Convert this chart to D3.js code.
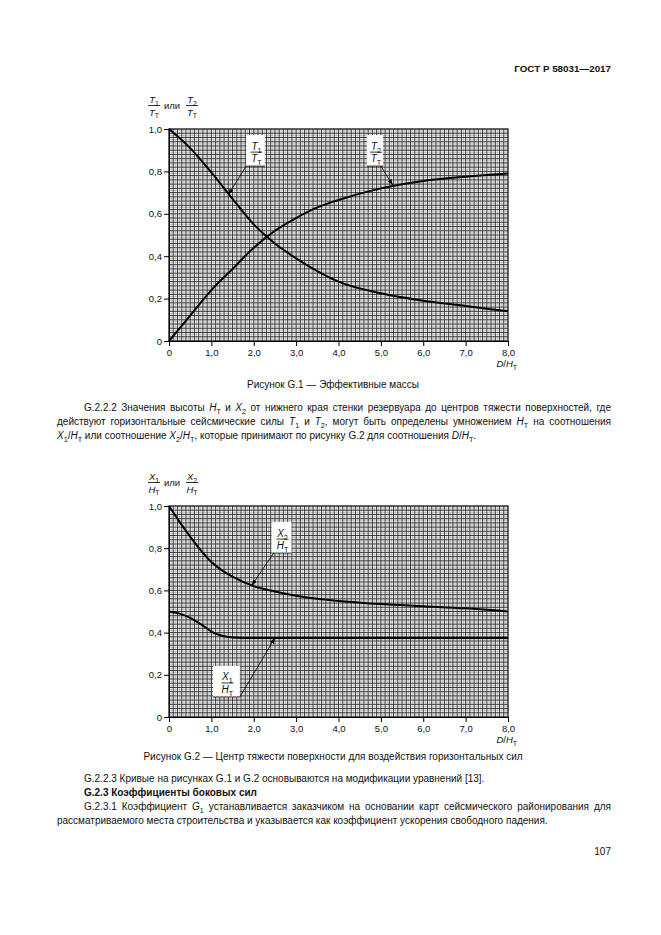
<!DOCTYPE html>
<html>
<head>
<meta charset="utf-8">
<script src="https://cdn.jsdelivr.net/npm/d3@7"></script>
<style>
  body { margin: 0; background: #fff; }
  svg { display: block; }
  text { font-family: "Liberation Sans", Arial, sans-serif; fill: #111; white-space: pre; }
</style>
</head>
<body>
<script>
// ── Data ────────────────────────────────────────────
const xTicks = [0, 1, 2, 3, 4, 5, 6, 7, 8];
const yTicks = [0, 0.2, 0.4, 0.6, 0.8, 1.0];

// Figure G.1
const t1X = [0, 0.5, 1.0, 1.5, 2.0, 2.5, 3.0, 3.5, 4.0, 5.0, 6.0, 7.0, 8.0];
const t1Y = [1.0, 0.91, 0.795, 0.67, 0.55, 0.46, 0.39, 0.33, 0.28, 0.225, 0.19, 0.165, 0.14];
const t2X = [0, 0.5, 1.0, 1.5, 2.0, 2.5, 3.0, 3.5, 4.0, 5.0, 6.0, 7.0, 8.0];
const t2Y = [0, 0.12, 0.24, 0.34, 0.44, 0.52, 0.58, 0.63, 0.665, 0.72, 0.755, 0.775, 0.79];

// Figure G.2
const x1X = [0, 0.25, 0.5, 0.75, 1.0, 1.25, 1.5, 1.75, 2.0, 3.0, 4.0, 5.0, 6.0, 7.0, 8.0];
const x1Y = [0.5, 0.49, 0.47, 0.44, 0.405, 0.385, 0.377, 0.375, 0.375, 0.375, 0.375, 0.375, 0.375, 0.375, 0.375];
const x2X = [0, 0.25, 0.5, 0.75, 1.0, 1.25, 1.5, 2.0, 2.5, 3.0, 3.5, 4.0, 5.0, 6.0, 7.0, 8.0];
const x2Y = [1.0, 0.925, 0.855, 0.79, 0.735, 0.695, 0.665, 0.62, 0.595, 0.575, 0.56, 0.55, 0.535, 0.525, 0.515, 0.50];

// callouts: underline [x0, x1, y] and arrow tip, in data units
const g1Labels = [
  { num: "*T*_{1}", den: "*T*_{Т}", u: [1.82, 2.26, 0.825], from: 1.82, tip: [1.40, 0.69] },
  { num: "*T*_{2}", den: "*T*_{Т}", u: [4.67, 5.05, 0.825], from: 5.0,  tip: [5.28, 0.735] },
];
const g2Labels = [
  { num: "*X*_{2}", den: "*H*_{Т}", u: [2.42, 2.89, 0.777], from: 2.47, tip: [1.95, 0.623] },
  { num: "*X*_{1}", den: "*H*_{Т}", u: [1.04, 1.67, 0.095], from: 1.67, tip: [2.50, 0.375] },
];

const FS = 9.5;    // chart text
const BS = 10;     // body text
const W = 661, H = 935;

const svg = d3.select("body").append("svg").attr("width", W).attr("height", H);

svg.append("defs").append("marker")
  .attr("id", "arr").attr("viewBox", "0 0 10 10")
  .attr("refX", 10).attr("refY", 5)
  .attr("markerWidth", 6).attr("markerHeight", 6)
  .attr("markerUnits", "userSpaceOnUse")
  .attr("orient", "auto")
  .append("path").attr("d", "M0,1.5 L10,5 L0,8.5 z").attr("fill", "#000");

// ── Rich text: *italic*, _{sub} ──────────────────────
function rich(sel, str, size) {
  const parts = str.split(/(\*[^*]+\*|_\{[^}]+\})/).filter(s => s.length);
  const sh = size * 0.3;
  let down = false;
  parts.forEach(p => {
    const t = sel.append("tspan");
    if (p.startsWith("_{")) {
      t.text(p.slice(2, -1)).attr("font-size", size * 0.72);
      if (!down) t.attr("dy", sh);
      down = true;
    } else {
      if (down) t.attr("dy", -sh);
      down = false;
      if (p.startsWith("*")) t.text(p.slice(1, -1)).style("font-style", "italic");
      else t.text(p);
    }
  });
  return sel;
}

function line(str, x, y, opts = {}) {
  const size = opts.size || BS;
  const t = svg.append("text").attr("x", x).attr("y", y).attr("font-size", size);
  if (opts.bold) t.attr("font-weight", "bold");
  if (opts.anchor) t.attr("text-anchor", opts.anchor);
  rich(t, str, size);
  if (opts.justify) {
    const n = t.node();
    const len = n.getComputedTextLength();
    const spaces = (n.textContent.match(/ /g) || []).length;
    t.style("word-spacing", ((opts.justify - x - len) / spaces) + "px");
  }
  return t;
}

function frac(g, cx, yBar, num, den, size, wBar) {
  g.append("text").attr("x", cx).attr("y", yBar - 2.5).attr("text-anchor", "middle")
    .attr("font-size", size).call(s => rich(s, num, size));
  g.append("line").attr("x1", cx - wBar / 2).attr("x2", cx + wBar / 2)
    .attr("y1", yBar).attr("y2", yBar).attr("stroke", "#000").attr("stroke-width", 0.8);
  g.append("text").attr("x", cx).attr("y", yBar + 10).attr("text-anchor", "middle")
    .attr("font-size", size).call(s => rich(s, den, size));
}

// ── Chart ─────────────────────────────────────────────
function drawChart(c) {
  const x = d3.scaleLinear().domain([0, 8]).range([169, 508]);
  const y = d3.scaleLinear().domain([0, 1]).range([c.bottom, c.top]);
  const g = svg.append("g");

  // graph paper
  const vGrey = d3.range(0, 80).map(i => i * 0.1 + 0.05);
  const vDark = d3.range(1, 80).map(i => i * 0.1);
  const hGrey = d3.range(0, 50).map(i => i * 0.02 + 0.01);
  const hDark = d3.range(1, 50).map(i => i * 0.02);

  g.selectAll(".vg").data(vGrey).enter().append("line")
    .attr("x1", d => x(d)).attr("x2", d => x(d)).attr("y1", y(0)).attr("y2", y(1))
    .attr("stroke", "#999").attr("stroke-width", 0.5);
  g.selectAll(".hg").data(hGrey).enter().append("line")
    .attr("y1", d => y(d)).attr("y2", d => y(d)).attr("x1", x(0)).attr("x2", x(8))
    .attr("stroke", "#999").attr("stroke-width", 0.5);
  g.selectAll(".vd").data(vDark).enter().append("line")
    .attr("x1", d => x(d)).attr("x2", d => x(d)).attr("y1", y(0)).attr("y2", y(1))
    .attr("stroke", "#111").attr("stroke-width", 0.8);
  g.selectAll(".hd").data(hDark).enter().append("line")
    .attr("y1", d => y(d)).attr("y2", d => y(d)).attr("x1", x(0)).attr("x2", x(8))
    .attr("stroke", "#111").attr("stroke-width", 0.8);

  g.append("rect").attr("x", x(0)).attr("y", y(1))
    .attr("width", x(8) - x(0)).attr("height", y(0) - y(1))
    .attr("fill", "none").attr("stroke", "#000").attr("stroke-width", 1.2);

  // axes
  const fmt = d => d === 0 ? "0" : d3.format(".1f")(d).replace(".", ",");
  const ay = g.append("g").attr("transform", `translate(${x(0)},0)`)
    .call(d3.axisLeft(y).tickValues(yTicks).tickFormat(fmt).tickSize(5).tickSizeOuter(0).tickPadding(2));
  const ax = g.append("g").attr("transform", `translate(0,${y(0)})`)
    .call(d3.axisBottom(x).tickValues(xTicks).tickFormat(fmt).tickSize(5).tickSizeOuter(0).tickPadding(3));
  [ay, ax].forEach(a => {
    a.attr("font-family", null).attr("font-size", FS);
    a.selectAll("text").attr("fill", "#111");
    a.selectAll("line, path").attr("stroke", "#000").attr("stroke-width", 1);
  });

  g.append("text").attr("x", 517).attr("y", y(0) + 26).attr("text-anchor", "end")
    .attr("font-size", FS).call(s => rich(s, "*D*/*H*_{Т}", FS));

  // y title
  const yb = y(1) - 23.5;
  frac(g, 154, yb, c.title[0], c.title[1], FS, 12);
  g.append("text").attr("x", 164).attr("y", yb + 3.5).attr("font-size", FS).text("или");
  frac(g, 192, yb, c.title[2], c.title[3], FS, 12);

  // curves
  const gen = d3.line().x(d => x(d[0])).y(d => y(d[1])).curve(d3.curveMonotoneX);
  c.curves.forEach(cv => {
    g.append("path").datum(d3.zip(cv[0], cv[1]))
      .attr("fill", "none").attr("stroke", "#000").attr("stroke-width", 2)
      .attr("d", gen);
  });

  // callouts
  c.labels.forEach(l => {
    const x0 = x(l.u[0]), x1 = x(l.u[1]), yu = y(l.u[2]);
    g.append("rect").attr("x", x0).attr("y", yu - 31).attr("width", x1 - x0).attr("height", 31)
      .attr("fill", "#fff");
    frac(g, (x0 + x1) / 2 + 1, yu - 14, l.num, l.den, FS + 0.5, 12);
    g.append("line").attr("x1", x0).attr("x2", x1).attr("y1", yu).attr("y2", yu)
      .attr("stroke", "#000").attr("stroke-width", 0.8);
    g.append("line").attr("x1", x(l.from)).attr("y1", yu)
      .attr("x2", x(l.tip[0])).attr("y2", y(l.tip[1]))
      .attr("stroke", "#000").attr("stroke-width", 0.8).attr("marker-end", "url(#arr)");
  });
}

// ── Page ──────────────────────────────────────────────
line("ГОСТ Р 58031—2017", 611, 72, { bold: true, size: 9.8, anchor: "end" });

drawChart({
  top: 129, bottom: 341,
  title: ["*T*_{1}", "*T*_{Т}", "*T*_{2}", "*T*_{Т}"],
  curves: [[t1X, t1Y], [t2X, t2Y]],
  labels: g1Labels,
});

line("Рисунок G.1 — Эффективные массы", 333, 388, { anchor: "middle" });

line("G.2.2.2 Значения высоты *H*_{Т} и *X*_{2} от нижнего края стенки резервуара до центров тяжести поверхностей, где", 84, 411, { justify: 611 });
line("действуют горизонтальные сейсмические силы *T*_{1} и *T*_{2}, могут быть определены умножением *H*_{Т} на соотношения", 57, 425, { justify: 611 });
line("*X*_{1}/*H*_{Т} или соотношение *X*_{2}/*H*_{Т}, которые принимают по рисунку G.2 для соотношения *D*/*H*_{Т}.", 57, 439);

drawChart({
  top: 506, bottom: 717,
  title: ["*X*_{1}", "*H*_{Т}", "*X*_{2}", "*H*_{Т}"],
  curves: [[x1X, x1Y], [x2X, x2Y]],
  labels: g2Labels,
});

line("Рисунок G.2 — Центр тяжести поверхности для воздействия горизонтальных сил", 333, 760, { anchor: "middle" });

line("G.2.2.3 Кривые на рисунках G.1 и G.2 основываются на модификации уравнений [13].", 84, 782);
line("G.2.3 Коэффициенты боковых сил", 84, 796, { bold: true });
line("G.2.3.1 Коэффициент *G*_{1} устанавливается заказчиком на основании карт сейсмического районирования для", 84, 810, { justify: 611 });
line("рассматриваемого места строительства и указывается как коэффициент ускорения свободного падения.", 57, 824);

line("107", 611, 855, { anchor: "end" });
</script>
</body>
</html>
